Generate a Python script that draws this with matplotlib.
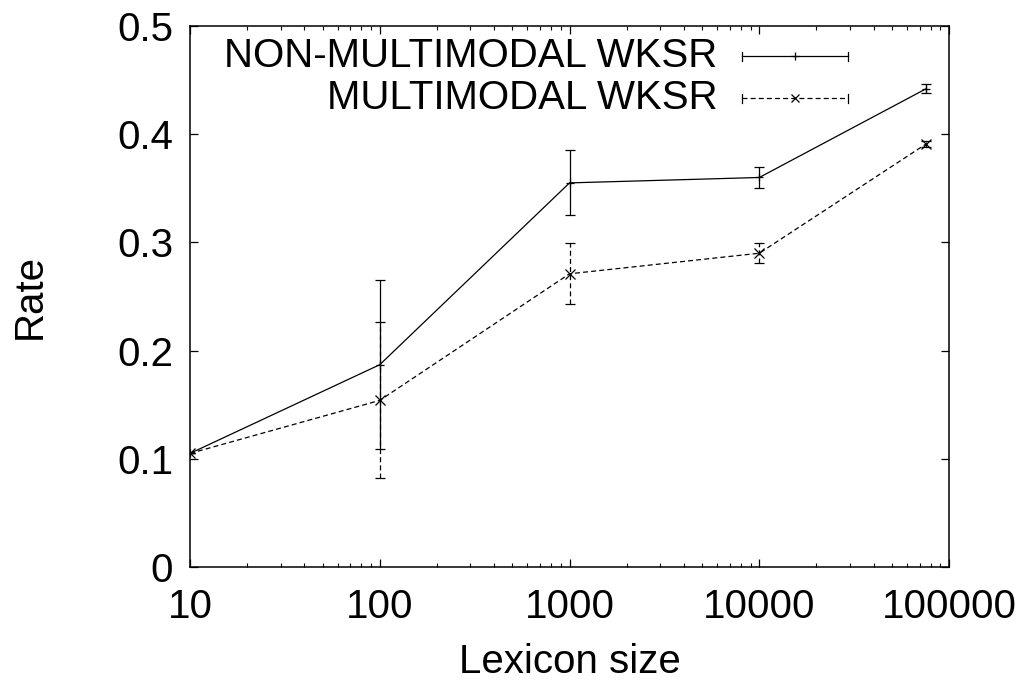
"""
Word keyword spotting rate vs lexicon size (gnuplot-style line chart)
"""

import numpy as np
import matplotlib.pyplot as plt
from matplotlib.ticker import FixedLocator, LogLocator, NullFormatter
from matplotlib.lines import Line2D

# Data
lexicon_size = [10, 100, 1000, 10000, 75700]
non_multimodal = [0.105, 0.187, 0.355, 0.360, 0.442]
non_multimodal_err = [0.0, 0.078, 0.030, 0.010, 0.004]
multimodal = [0.105, 0.154, 0.271, 0.290, 0.391]
multimodal_err = [0.0, 0.072, 0.028, 0.009, 0.003]

series_labels = ['NON-MULTIMODAL WKSR', 'MULTIMODAL WKSR']
x_ticks = [10, 100, 1000, 10000, 100000]
x_tick_labels = ['10', '100', '1000', '10000', '100000']
y_ticks = [0, 0.1, 0.2, 0.3, 0.4, 0.5]
y_tick_labels = ['0', '0.1', '0.2', '0.3', '0.4', '0.5']

plt.rcParams['font.family'] = ['Liberation Sans', 'DejaVu Sans']
FS = 29

fig = plt.figure(figsize=(10.26, 6.84), dpi=100)
ax = fig.add_axes([0.1852, 0.171, 0.925 - 0.1852, 0.962 - 0.171])

dash = (0, (4, 2.5))

ax.errorbar(lexicon_size, non_multimodal, yerr=non_multimodal_err,
            color='black', linewidth=0.9, marker='+', markersize=6,
            markeredgewidth=0.9, capsize=3.5, elinewidth=0.9, capthick=0.9)
eb = ax.errorbar(lexicon_size, multimodal, yerr=multimodal_err,
                 color='black', linewidth=0.9, linestyle=dash, marker='x',
                 markersize=6.5, markeredgewidth=0.9, capsize=3.5,
                 elinewidth=0.9, capthick=0.9)
eb[2][0].set_linestyle(dash)

ax.set_xscale('log')
ax.set_xlim(10, 100000)
ax.set_ylim(0, 0.5)

ax.xaxis.set_major_locator(FixedLocator(x_ticks))
ax.set_xticklabels(x_tick_labels)
ax.xaxis.set_minor_locator(LogLocator(base=10, subs=np.arange(2, 10)))
ax.xaxis.set_minor_formatter(NullFormatter())
ax.set_yticks(y_ticks)
ax.set_yticklabels(y_tick_labels)

ax.tick_params(axis='both', which='major', direction='in', length=6,
               width=0.9, top=True, right=True, labelsize=FS)
ax.tick_params(axis='x', which='major', pad=15)
ax.tick_params(axis='y', which='major', pad=12)
ax.tick_params(axis='both', which='minor', direction='in', length=3,
               width=0.8, top=True, right=True)
for s in ax.spines.values():
    s.set_linewidth(1.1)

ax.set_xlabel('Lexicon size', fontsize=FS)
ax.set_ylabel('Rate', fontsize=FS)
ax.xaxis.label.set_va('center')
ax.yaxis.label.set_va('center')
ax.xaxis.set_label_coords(0.5, -(662 - 567) / 541)
ax.yaxis.set_label_coords(-(190 - 30) / 759, 0.5)

# gnuplot-style key (text right-aligned, sample line with end caps)
styles = [('-', '+'), (dash, 'x')]
rows_y = [0.944, 0.866]
for label, (ls, mk), yy in zip(series_labels, styles, rows_y):
    ax.text(0.695, yy, label, transform=ax.transAxes, ha='right',
            va='center', fontsize=FS)
    ax.add_line(Line2D([0.727, 0.867], [yy, yy], transform=ax.transAxes,
                       color='black', linewidth=0.9, linestyle=ls))
    ax.add_line(Line2D([0.797], [yy], transform=ax.transAxes, color='black',
                       marker=mk, markersize=6, markeredgewidth=0.9,
                       linestyle='none'))
    for xe in (0.727, 0.867):
        ax.add_line(Line2D([xe, xe], [yy - 0.008, yy + 0.008],
                           transform=ax.transAxes, color='black',
                           linewidth=0.9))

fig.savefig('out.png', dpi=100)
